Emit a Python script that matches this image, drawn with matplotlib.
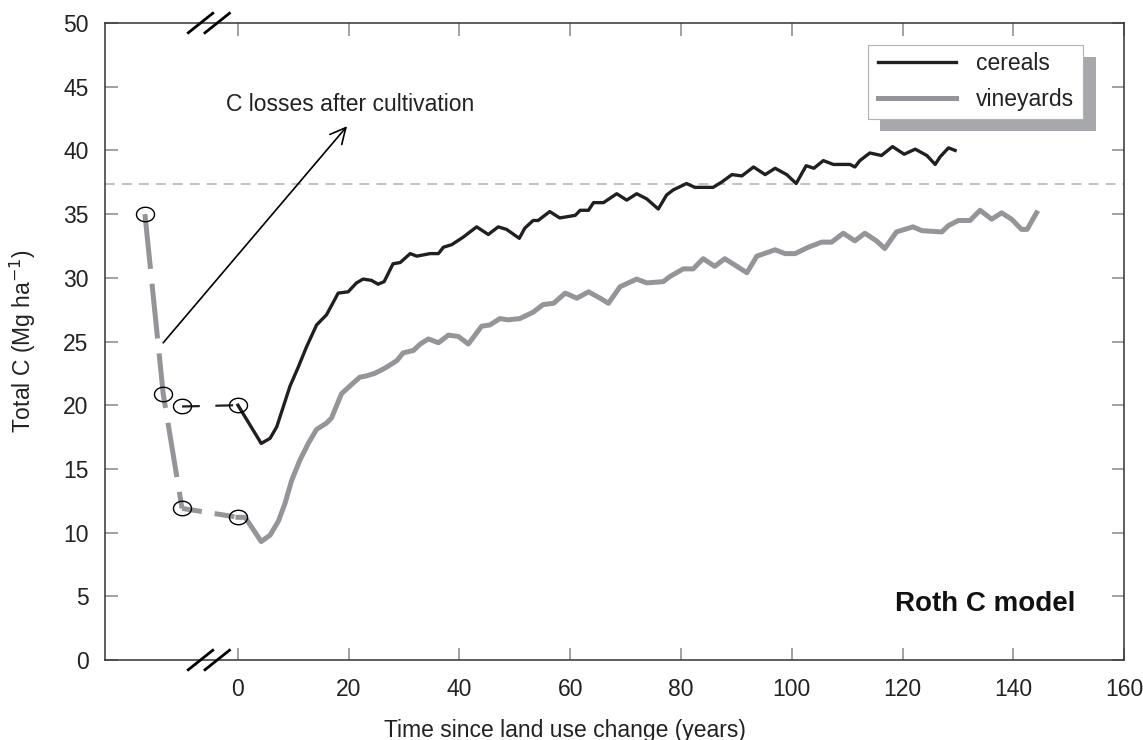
import matplotlib
matplotlib.use("Agg")
import matplotlib.pyplot as plt
import numpy as np
from matplotlib.lines import Line2D
from matplotlib.patches import Rectangle

plt.rcParams.update({
    "font.family": ["Liberation Sans", "DejaVu Sans"],
    "font.size": 16.5,
    "text.color": "#222222",
    "axes.labelcolor": "#222222",
    "xtick.color": "#888888",
    "ytick.color": "#888888",
    "xtick.labelcolor": "#222222",
    "ytick.labelcolor": "#222222",
})

# --- data ---------------------------------------------------------------------
cereal_years = [0, 4.2, 5.8, 7.0, 8.2, 9.4, 10.9, 12.4, 14.2, 16.0,
                18.1, 19.9, 21.4, 22.6, 24.1, 25.3, 26.4, 28.0, 29.3, 31.1,
                32.3, 34.7, 36.2, 37.1, 38.6, 40.7, 43.1, 45.2, 47.0, 48.5,
                50.8, 51.8, 53.3, 54.2, 56.3, 58.1, 60.9, 61.8, 63.3, 64.2,
                66.0, 68.4, 70.2, 72.0, 73.8, 75.9, 77.4, 78.6, 81.0, 82.5,
                85.8, 87.3, 89.2, 91.0, 93.1, 95.2, 97.0, 99.1, 100.8, 102.6,
                104.0, 105.7, 107.5, 110.5, 111.4, 112.3, 114.1, 116.2, 118.2, 120.3,
                122.3, 124.4, 125.9, 126.8, 128.3, 129.5]
cereal_c = [20.0, 17.0, 17.4, 18.3, 19.9, 21.5, 23.0, 24.6, 26.3, 27.1,
            28.8, 28.9, 29.6, 29.9, 29.8, 29.5, 29.7, 31.1, 31.2, 31.9,
            31.7, 31.9, 31.9, 32.4, 32.6, 33.2, 34.0, 33.4, 34.0, 33.8,
            33.1, 33.9, 34.5, 34.5, 35.2, 34.7, 34.9, 35.3, 35.3, 35.9,
            35.9, 36.6, 36.1, 36.6, 36.2, 35.4, 36.5, 36.9, 37.4, 37.1,
            37.1, 37.5, 38.1, 38.0, 38.7, 38.1, 38.6, 38.1, 37.4, 38.8,
            38.6, 39.2, 38.9, 38.9, 38.7, 39.2, 39.8, 39.6, 40.3, 39.7,
            40.1, 39.6, 38.9, 39.5, 40.2, 40.0]

vine_years = [0, 1.3, 4.2, 5.8, 7.3, 8.5, 9.7, 11.2, 12.7, 14.2,
              16.0, 16.9, 18.7, 20.2, 22.0, 23.2, 24.7, 26.5, 28.7, 29.8,
              31.7, 32.9, 34.4, 36.2, 38.0, 39.8, 41.6, 44.0, 45.5, 47.3,
              48.8, 50.9, 53.3, 55.1, 57.0, 59.1, 61.2, 63.3, 65.4, 66.9,
              69.0, 72.0, 73.8, 76.8, 78.0, 80.4, 82.2, 84.0, 86.1, 87.9,
              90.1, 91.9, 93.7, 97.0, 98.8, 100.6, 103.0, 105.4, 107.2, 109.3,
              111.4, 113.2, 115.3, 116.8, 118.9, 121.9, 123.5, 127.1, 128.3, 130.1,
              132.2, 134.0, 136.1, 137.9, 139.7, 141.5, 142.5, 144.2]
vine_c = [11.2, 11.2, 9.3, 9.8, 10.9, 12.3, 14.1, 15.7, 17.0, 18.1,
          18.6, 19.0, 20.9, 21.5, 22.2, 22.3, 22.5, 22.9, 23.5, 24.1,
          24.3, 24.8, 25.2, 24.9, 25.5, 25.4, 24.8, 26.2, 26.3, 26.8,
          26.7, 26.8, 27.3, 27.9, 28.0, 28.8, 28.4, 28.9, 28.4, 28.0,
          29.3, 29.9, 29.6, 29.7, 30.1, 30.7, 30.7, 31.5, 30.9, 31.5,
          30.9, 30.4, 31.7, 32.2, 31.9, 31.9, 32.4, 32.8, 32.8, 33.5,
          32.9, 33.5, 32.9, 32.3, 33.6, 34.0, 33.7, 33.6, 34.1, 34.5,
          34.5, 35.3, 34.6, 35.1, 34.6, 33.8, 33.8, 35.1]

# schematic part before the axis break
cereal_pre_x = [-10.1, 0.0]
cereal_pre_c = [19.9, 20.0]
vine_drop_x = [-16.8, -13.5, -10.1]
vine_drop_c = [35.0, 20.9, 11.9]
vine_flat_x = [-10.1, 0.0]
vine_flat_c = [11.9, 11.2]

ref_level = 37.4
x_ticks = [0, 20, 40, 60, 80, 100, 120, 140, 160]
y_ticks = [0, 5, 10, 15, 20, 25, 30, 35, 40, 45, 50]

BLACK = "#231f20"
GREY = "#939598"

fig = plt.figure(figsize=(11.43, 7.4), dpi=100)
ax = fig.add_axes([0.0919, 0.1081, 0.8915, 0.8608])

ax.axhline(ref_level, color="#b0b0b0", lw=1.1, dashes=(6.5, 4.6), zorder=1)

ax.plot(cereal_years, cereal_c, color=BLACK, lw=2.4, solid_joinstyle="round", zorder=3)
ax.plot(vine_years, vine_c, color=GREY, lw=3.6, solid_joinstyle="round", zorder=2)

ax.plot(cereal_pre_x, cereal_pre_c, color=BLACK, lw=1.6, dashes=(8, 7), zorder=3)
ax.plot(vine_drop_x, vine_drop_c, color=GREY, lw=3.6, dashes=(11, 3), zorder=2)
ax.plot(vine_flat_x, vine_flat_c, color=GREY, lw=3.6, dashes=(4, 2.6), zorder=2)

# open elliptical markers
t = np.linspace(0, 2 * np.pi, 60)
ellipse = np.column_stack([np.cos(t), 0.8 * np.sin(t)])
circ_x = vine_drop_x + vine_flat_x[1:] + cereal_pre_x
circ_c = vine_drop_c + vine_flat_c[1:] + cereal_pre_c
ax.plot(circ_x, circ_c, ls="none", marker=ellipse, ms=13, mfc="none",
        mec="black", mew=1.0, zorder=4)

ax.annotate("", xy=(19.7, 41.9), xytext=(-13.5, 24.9),
            arrowprops=dict(arrowstyle="->", lw=1.2, color="black",
                            mutation_scale=28, shrinkA=0, shrinkB=0))
ax.text(20.2, 43.6, "C losses after cultivation", ha="center", va="center")
ax.text(151.2, 4.4, "Roth C model", ha="right", va="center",
        fontsize=20, fontweight="bold", color="#111111")

ax.set_xlim(-24, 160)
ax.set_ylim(0, 50)
ax.set_xticks(x_ticks)
ax.set_yticks(y_ticks)
ax.tick_params(direction="in", length=9, width=1.1, top=True, right=True)
ax.tick_params(axis="x", pad=13)
ax.tick_params(axis="y", pad=12)
for s in ax.spines.values():
    s.set_linewidth(1.1)
    s.set_color("#333333")

ax.set_xlabel("Time since land use change (years)")
ax.xaxis.set_label_coords(0.451, -0.092)
ax.set_ylabel("Total C (Mg ha$^{-1}$)", labelpad=18)

# axis break marks
for y0 in (0.0, 1.0):
    for x0 in (0.0817, 0.0981):
        ax.plot([x0, x0 + 0.0240], [y0 - 0.0153, y0 + 0.0153], color="black",
                lw=2.0, transform=ax.transAxes, clip_on=False, zorder=6)

# legend with offset shadow
ax.add_patch(Rectangle((0.7605, 0.8305), 0.212, 0.1161, transform=ax.transAxes,
                       facecolor="#a7a8ab", edgecolor="none", zorder=5))
ax.add_patch(Rectangle((0.7488, 0.8493), 0.211, 0.1162, transform=ax.transAxes,
                       facecolor="white", edgecolor="#b0b0b0", lw=0.8, zorder=6))
handles = [Line2D([], [], color=BLACK, lw=2.4), Line2D([], [], color=GREY, lw=3.6)]
leg = ax.legend(handles, ["cereals", "vineyards"], loc="upper left",
                bbox_to_anchor=(0.7478, 0.972), frameon=False, borderpad=0,
                handlelength=3.4, handletextpad=0.85, labelspacing=0.55,
                fontsize=16.5)
leg.set_zorder(7)

fig.savefig("out.png", dpi=100)
